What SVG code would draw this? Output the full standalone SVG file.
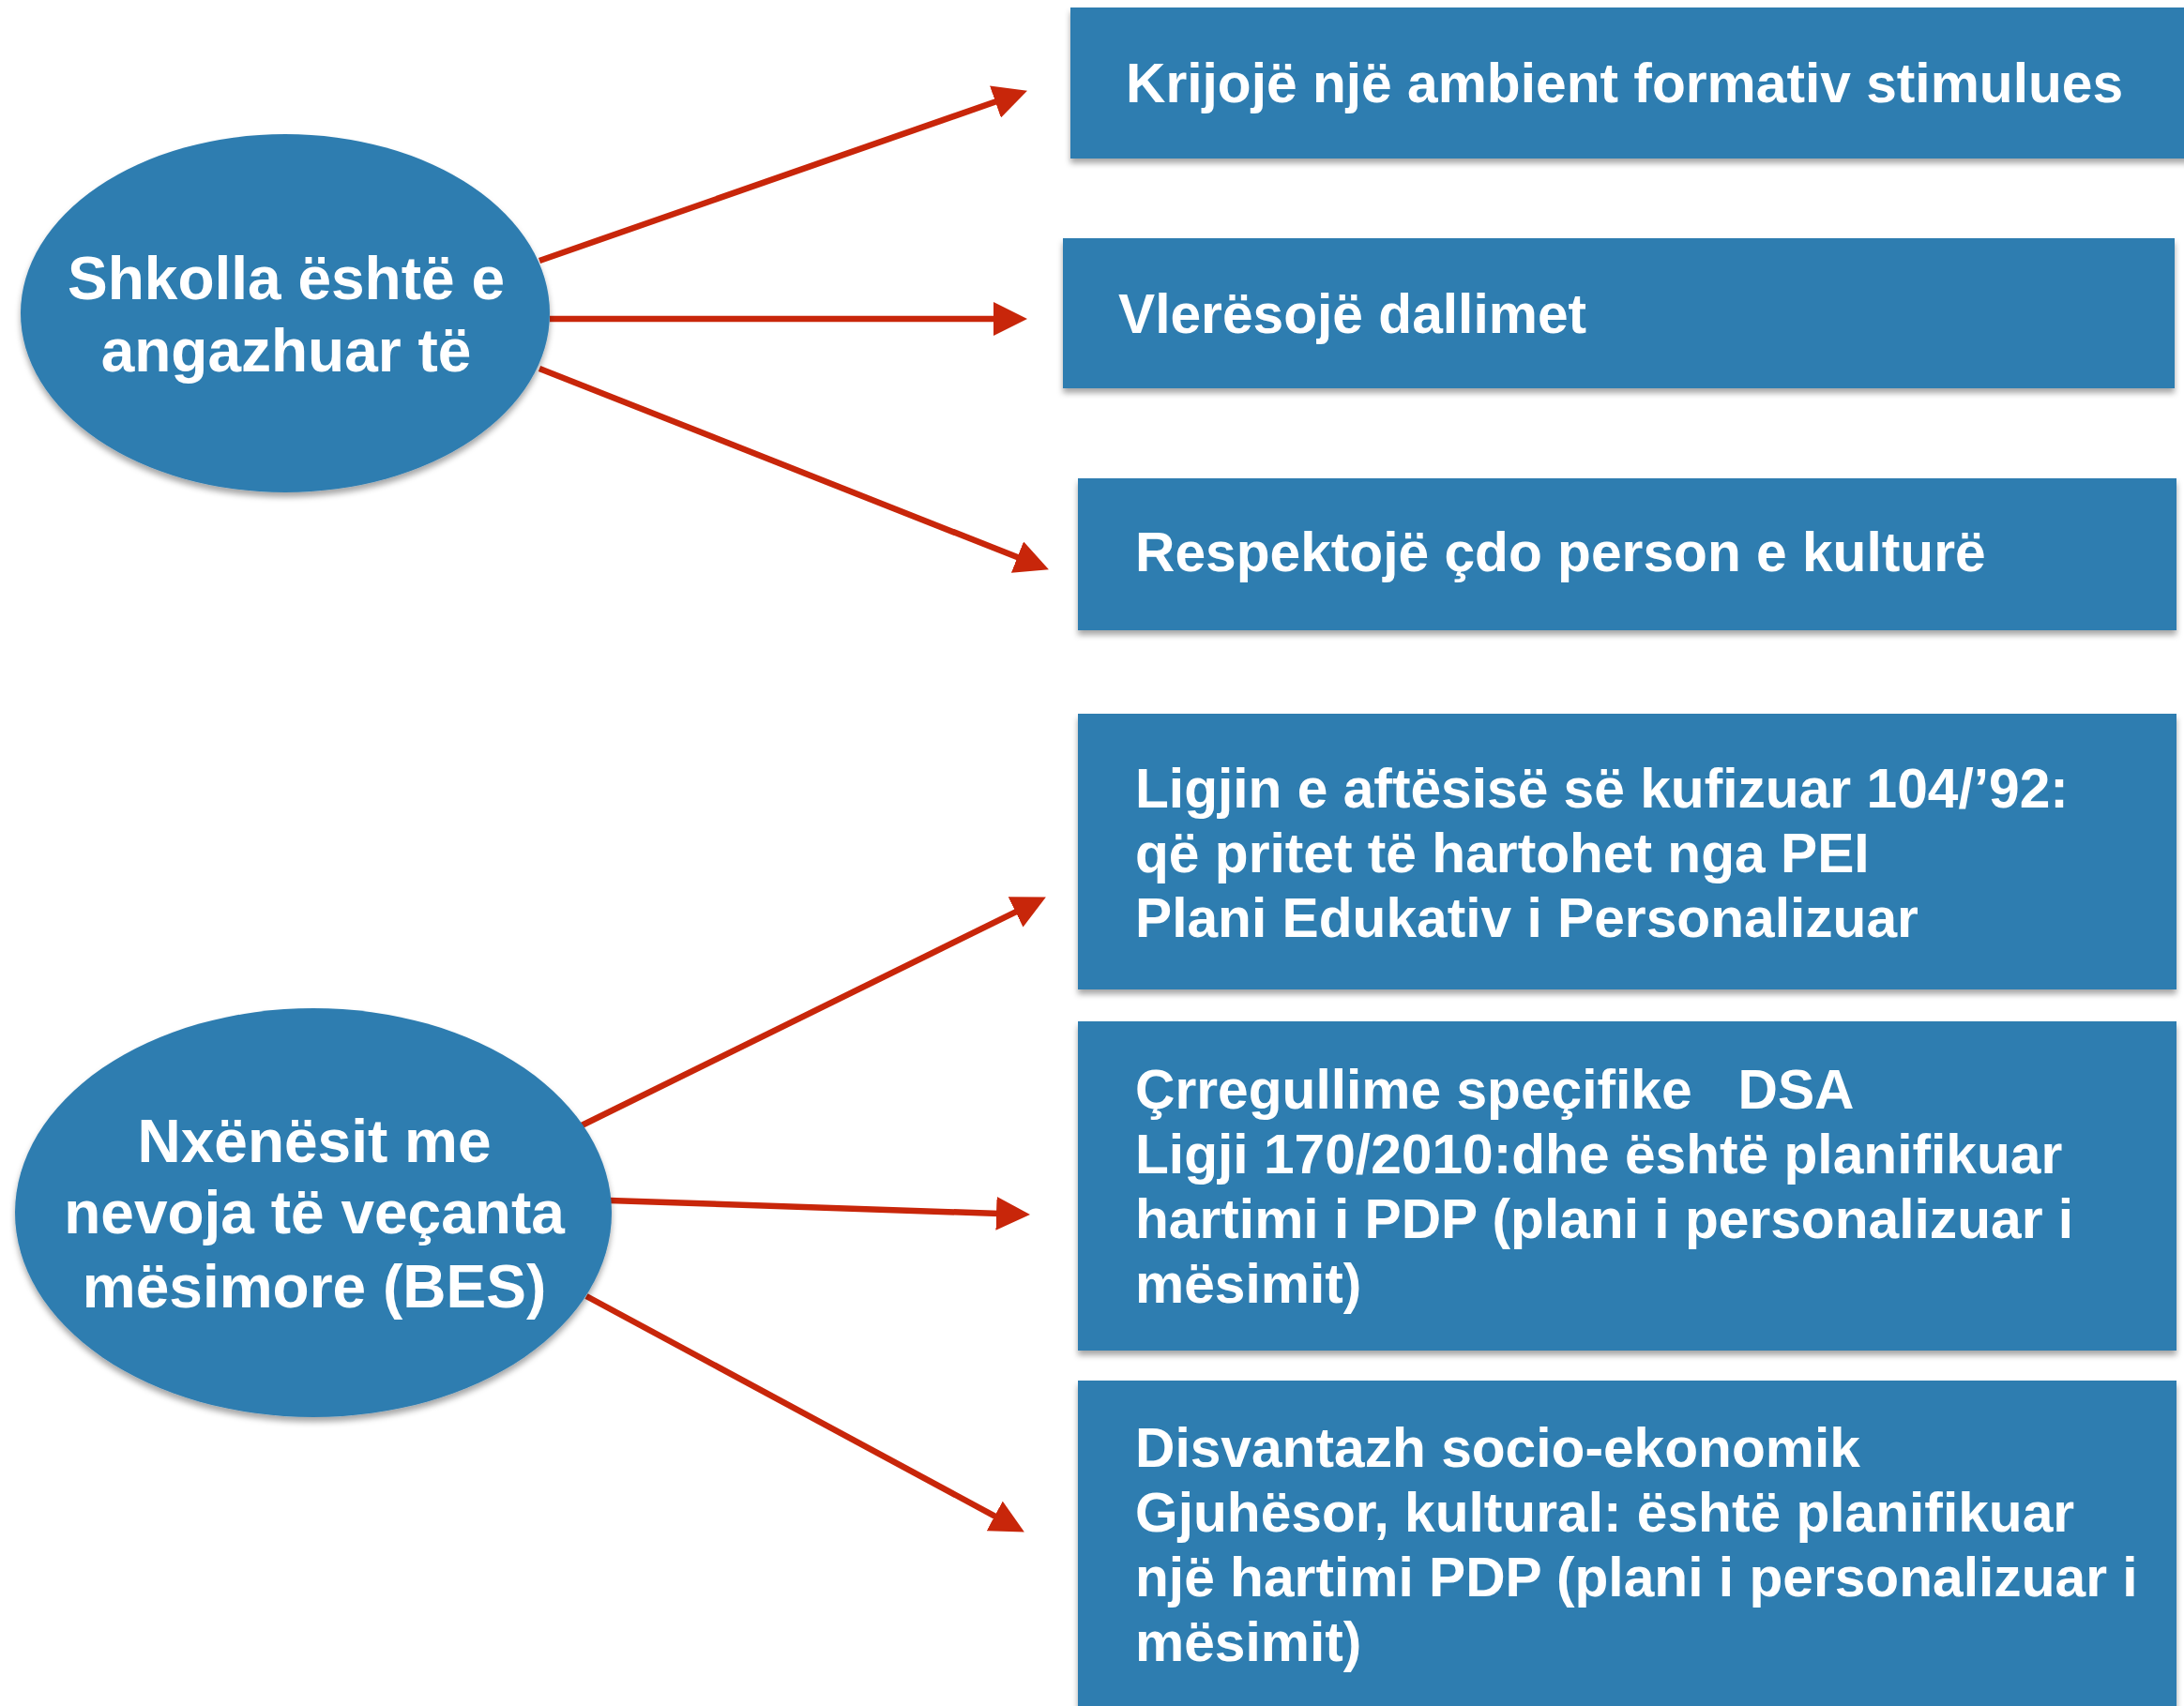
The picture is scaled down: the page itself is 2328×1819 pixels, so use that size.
<svg xmlns="http://www.w3.org/2000/svg" width="2328" height="1819" viewBox="0 0 2328 1819">
<defs>
<filter id="sh" x="-10%" y="-10%" width="120%" height="130%">
<feDropShadow dx="0" dy="5" stdDeviation="3" flood-color="#000" flood-opacity="0.35"/>
</filter>
<marker id="ah" markerUnits="userSpaceOnUse" markerWidth="36" markerHeight="36" refX="25" refY="18" orient="auto">
<path d="M0,0 L36,18 L0,36 Z" fill="#C8260A"/>
</marker>
</defs>
<style>
.node{fill:#2F7DB0;filter:url(#sh)}
.t{font-family:"Liberation Sans",Arial,Helvetica,sans-serif;font-weight:bold;fill:#fff}
.big{font-size:64px;text-anchor:middle}
.box{font-size:58.7px;white-space:pre}
.c{stroke:#C8260A;stroke-width:6.5;fill:none;marker-end:url(#ah)}
</style>
<rect width="2328" height="1819" fill="#fff"/>
<g id="connectors">
<line class="c" x1="575" y1="278" x2="1084.6" y2="100.3"/>
<line class="c" x1="586" y1="340" x2="1084" y2="340"/>
<line class="c" x1="575" y1="393" x2="1107.7" y2="603.3"/>
<line class="c" x1="620" y1="1200" x2="1105" y2="961.4"/>
<line class="c" x1="650" y1="1280" x2="1087" y2="1294.7"/>
<line class="c" x1="625" y1="1382" x2="1082.2" y2="1628.3"/>
</g>
<g id="school">
<ellipse class="node" cx="304" cy="334" rx="282" ry="191"/>
<text class="t big" x="305" y="319">Shkolla është e</text>
<text class="t big" x="305" y="396">angazhuar të</text>
</g>
<g id="students">
<ellipse class="node" cx="334" cy="1293" rx="318" ry="218"/>
<text class="t big" x="335" y="1239">Nxënësit me</text>
<text class="t big" x="335" y="1315">nevoja të veçanta</text>
<text class="t big" x="335" y="1394">mësimore (BES)</text>
</g>
<g id="box1">
<rect class="node" x="1141" y="8" width="1200" height="161"/>
<text class="t box" x="1200" y="109">Krijojë një ambient formativ stimulues</text>
</g>
<g id="box2">
<rect class="node" x="1133" y="254" width="1185" height="160"/>
<text class="t box" x="1192" y="355">Vlerësojë dallimet</text>
</g>
<g id="box3">
<rect class="node" x="1149" y="510" width="1171" height="162"/>
<text class="t box" x="1210" y="609">Respektojë çdo person e kulturë</text>
</g>
<g id="box4">
<rect class="node" x="1149" y="761" width="1171" height="294"/>
<text class="t box" x="1210" y="861">Ligjin e aftësisë së kufizuar 104/’92:</text>
<text class="t box" x="1210" y="930">që pritet të hartohet nga PEI</text>
<text class="t box" x="1210" y="999">Plani Edukativ i Personalizuar</text>
</g>
<g id="box5">
<rect class="node" x="1149" y="1089" width="1171" height="351"/>
<text class="t box" x="1210" y="1182">Çrregullime speçifike   DSA</text>
<text class="t box" x="1210" y="1251">Ligji 170/2010:dhe është planifikuar</text>
<text class="t box" x="1210" y="1320">hartimi i PDP (plani i personalizuar i</text>
<text class="t box" x="1210" y="1389">mësimit)</text>
</g>
<g id="box6">
<rect class="node" x="1149" y="1472" width="1171" height="370"/>
<text class="t box" x="1210" y="1564">Disvantazh socio-ekonomik</text>
<text class="t box" x="1210" y="1633">Gjuhësor, kultural: është planifikuar</text>
<text class="t box" x="1210" y="1702">një hartimi PDP (plani i personalizuar i</text>
<text class="t box" x="1210" y="1771">mësimit)</text>
</g>
</svg>
